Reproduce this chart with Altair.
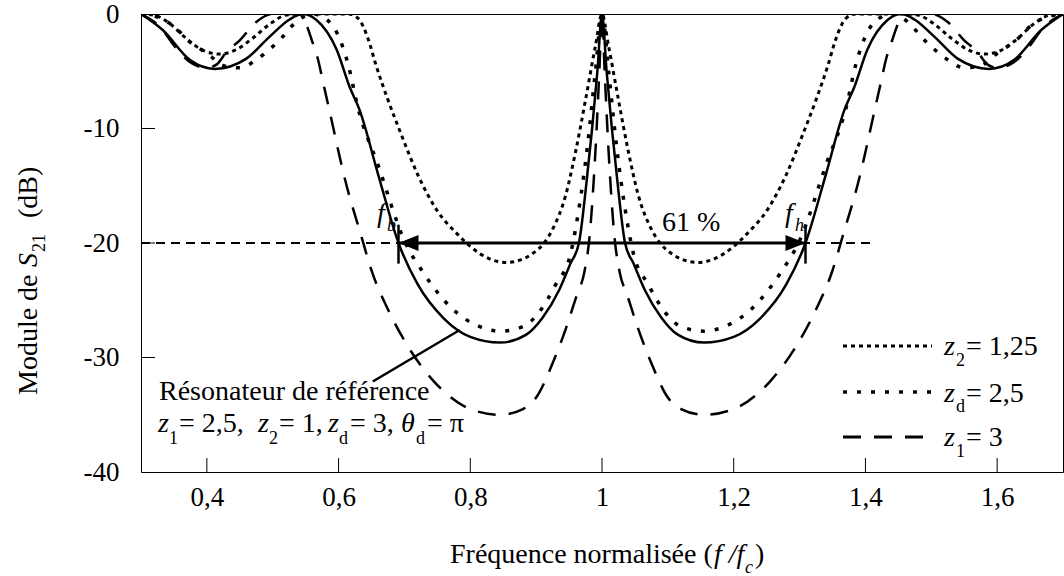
import altair as alt
import pandas as pd

FONT = "Liberation Serif"

# ---------------- data ----------------
# Reference resonator (solid)
solid_x = [0.30, 0.333, 0.374, 0.412, 0.46, 0.495, 0.525, 0.545, 0.566, 0.597, 0.617, 0.632, 0.66, 0.691,
           0.72, 0.76, 0.80, 0.845, 0.885, 0.91, 0.935, 0.952, 0.965, 0.975, 0.985, 0.993, 1.0,
           1.007, 1.015, 1.025, 1.035, 1.048, 1.065, 1.09, 1.115, 1.155, 1.20, 1.24, 1.28, 1.309,
           1.34, 1.368, 1.383, 1.403, 1.434, 1.455, 1.475, 1.505, 1.54, 1.588, 1.626, 1.667, 1.70]
solid_y = [0, -1.4, -4.0, -4.8, -3.9, -2.0, -0.5, 0, -0.5, -3.1, -6.4, -8.4, -14.0, -20.0,
           -23.6, -26.6, -28.2, -28.7, -28.0, -26.5, -24.1, -21.8, -20.0, -15.5, -10.0, -5.0, 0,
           -5.0, -10.0, -15.5, -20.0, -21.8, -24.1, -26.5, -28.0, -28.7, -28.2, -26.6, -23.6, -20.0,
           -14.0, -8.4, -6.4, -3.1, -0.5, 0, -0.5, -2.0, -3.9, -4.8, -4.0, -1.4, 0]

# z2 = 1,25 (dense dots)
z2_x = [0.30, 0.32, 0.345, 0.37, 0.395, 0.42, 0.445, 0.47, 0.495, 0.52, 0.54, 0.615, 0.63, 0.645, 0.657,
        0.675, 0.695, 0.72, 0.75, 0.78, 0.80, 0.83, 0.855, 0.875, 0.895, 0.912, 0.925, 0.945, 0.96,
        0.975, 0.99, 1.0,
        1.01, 1.025, 1.04, 1.055, 1.075, 1.088, 1.105, 1.125, 1.145, 1.17, 1.20, 1.22, 1.25, 1.28,
        1.305, 1.325, 1.343, 1.355, 1.37, 1.385, 1.46, 1.48, 1.505, 1.53, 1.555, 1.58, 1.605, 1.63,
        1.655, 1.68, 1.70]
z2_y = [0, -0.1, -0.9, -2.2, -3.2, -3.5, -3.1, -2.1, -0.9, -0.1, 0, 0, -0.4, -2.2, -4.5,
        -7.5, -10.5, -14.0, -17.2, -19.2, -20.3, -21.4, -21.7, -21.5, -20.9, -20.0, -18.8, -15.8, -12.0,
        -7.5, -2.8, 0,
        -2.8, -7.5, -12.0, -15.8, -18.8, -20.0, -20.9, -21.5, -21.7, -21.4, -20.3, -19.2, -17.2, -14.0,
        -10.5, -7.5, -4.5, -2.2, -0.4, 0, 0, -0.1, -0.9, -2.1, -3.1, -3.5, -3.2, -2.2,
        -0.9, -0.1, 0]

# zd = 2,5 (spaced dots)
zd_x = [0.30, 0.331, 0.343, 0.358, 0.371, 0.386, 0.404, 0.424, 0.45, 0.475, 0.495, 0.515, 0.53, 0.545,
        0.56, 0.58, 0.598, 0.615, 0.629, 0.66, 0.70, 0.73, 0.77, 0.81, 0.845, 0.88, 0.905, 0.93,
        0.952, 0.965, 0.978, 0.99, 1.0,
        1.01, 1.022, 1.035, 1.048, 1.07, 1.095, 1.12, 1.155, 1.19, 1.23, 1.27, 1.30, 1.34, 1.371,
        1.385, 1.402, 1.42, 1.44, 1.455, 1.47, 1.485, 1.505, 1.525, 1.55, 1.576, 1.596, 1.614,
        1.629, 1.642, 1.657, 1.669, 1.70]
zd_y = [0, -0.4, -0.8, -1.5, -2.3, -2.9, -3.6, -4.5, -4.7, -4.0, -3.1, -2.0, -1.0, -0.3,
        0, -0.4, -1.7, -4.5, -8.1, -13.2, -19.8, -22.7, -25.6, -27.2, -27.7, -27.3, -26.0, -23.6,
        -21.0, -17.0, -11.5, -5.0, 0,
        -5.0, -11.5, -17.0, -21.0, -23.6, -26.0, -27.3, -27.7, -27.2, -25.6, -22.7, -19.8, -13.2, -8.1,
        -4.5, -1.7, -0.4, 0, -0.3, -1.0, -2.0, -3.1, -4.0, -4.7, -4.5, -3.6, -2.9,
        -2.3, -1.5, -0.8, -0.4, 0]

# z1 = 3 (dashed)
z1_x = [0.30, 0.333, 0.348, 0.377, 0.40, 0.415, 0.43, 0.45, 0.475, 0.50, 0.54, 0.55, 0.56, 0.568,
        0.577, 0.586, 0.61, 0.635, 0.65, 0.675, 0.705, 0.745, 0.80, 0.845, 0.88, 0.90, 0.925, 0.945,
        0.962, 0.973, 0.981, 0.99, 0.996, 1.0,
        1.004, 1.01, 1.019, 1.027, 1.038, 1.055, 1.075, 1.10, 1.12, 1.155, 1.20, 1.255, 1.295,
        1.325, 1.35, 1.365, 1.39, 1.414, 1.423, 1.432, 1.44, 1.45, 1.46, 1.50, 1.525, 1.55, 1.57,
        1.585, 1.60, 1.623, 1.652, 1.667, 1.70]
z1_y = [0, -1.4, -2.6, -4.3, -4.7, -4.4, -3.3, -2.3, -0.7, 0, 0, -0.8, -2.4, -3.8,
        -6.1, -8.4, -14.5, -19.5, -22.4, -25.8, -29.0, -32.1, -34.5, -35.0, -34.5, -33.5, -30.5, -27.5,
        -24.5, -22.6, -19.5, -12.0, -5.0, 0,
        -5.0, -12.0, -19.5, -22.6, -24.5, -27.5, -30.5, -33.5, -34.5, -35.0, -34.5, -32.1, -29.0,
        -25.8, -22.4, -19.5, -14.5, -8.4, -6.1, -3.8, -2.4, -0.8, 0, 0, -0.7, -2.3, -3.3,
        -4.4, -4.7, -4.3, -2.6, -1.4, 0]

x_ticks = [0.4, 0.6, 0.8, 1.0, 1.2, 1.4, 1.6]
y_ticks = [0, -10, -20, -30, -40]

fb, fh, level = 0.691, 1.309, -20
ref_line_x = [0.30, 1.41]
leader_x = [0.652, 0.784]
leader_y = [-32.1, -27.6]

# ---------------- layout ----------------
PL, PT = 141, 14
W, H = 922, 458
XS = alt.Scale(domain=[0.3, 1.7], nice=False, zero=False)
YS = alt.Scale(domain=[-40, 0], nice=False, zero=False)

xaxis = alt.Axis(values=x_ticks, labelExpr="replace('' + datum.value, '.', ',')", ticks=False,
                 domain=False, grid=False, title=None, labelFont=FONT, labelFontSize=27,
                 labelColor="black", labelPadding=12, labelFlush=False, labelOverlap=False)
yaxis = alt.Axis(values=y_ticks, labelExpr="'' + datum.value", ticks=False, domain=False,
                 grid=False, title=None, labelFont=FONT, labelFontSize=27, labelColor="black",
                 labelPadding=22, labelFlush=False, labelOverlap=False)


def series(xs, ys, name):
    return pd.DataFrame({"f": xs, "s": ys, "k": name})


def curve(df, dash=None, width=2.5):
    kw = dict(color="black", strokeWidth=width, interpolate="monotone", clip=True, strokeCap="butt")
    if dash:
        kw["strokeDash"] = dash
    return alt.Chart(df).mark_line(**kw).encode(
        x=alt.X("f:Q", scale=XS, axis=xaxis),
        y=alt.Y("s:Q", scale=YS, axis=yaxis),
        order="f:Q")


layers = []
layers.append(curve(series(solid_x, solid_y, "ref"), None, 2.5))
layers.append(curve(series(z2_x, z2_y, "z2"), [4, 4], 3))
layers.append(curve(series(zd_x, zd_y, "zd"), [4, 10], 3.5))
layers.append(curve(series(z1_x, z1_y, "z1"), [18, 13], 2.5))

# -20 dB reference dashed line
layers.append(alt.Chart(pd.DataFrame({"f": ref_line_x, "s": [level, level]})).mark_line(
    color="black", strokeWidth=2, strokeDash=[9, 6]).encode(
    x=alt.X("f:Q", scale=XS), y=alt.Y("s:Q", scale=YS)))

# double arrow
layers.append(alt.Chart(pd.DataFrame({"a": [fb], "b": [fh], "s": [level]})).mark_rule(
    color="black", strokeWidth=3).encode(x=alt.X("a:Q", scale=XS), x2="b:Q", y=alt.Y("s:Q", scale=YS)))
layers.append(alt.Chart(pd.DataFrame({"f": [fb, fh], "a": [-18.4, -18.4], "b": [-21.8, -21.8]})).mark_rule(
    color="black", strokeWidth=2.5).encode(x=alt.X("f:Q", scale=XS), y=alt.Y("a:Q", scale=YS), y2="b:Q"))
layers.append(alt.Chart(pd.DataFrame({"f": [fb], "s": [level]})).mark_point(
    shape="M0,0L1,-0.4L1,0.4Z", size=1600, filled=True, color="black", opacity=1).encode(
    x=alt.X("f:Q", scale=XS), y=alt.Y("s:Q", scale=YS)))
layers.append(alt.Chart(pd.DataFrame({"f": [fh], "s": [level]})).mark_point(
    shape="M0,0L-1,-0.4L-1,0.4Z", size=1600, filled=True, color="black", opacity=1).encode(
    x=alt.X("f:Q", scale=XS), y=alt.Y("s:Q", scale=YS)))

# leader line to the reference curve
layers.append(alt.Chart(pd.DataFrame({"f": leader_x, "s": leader_y})).mark_line(
    color="black", strokeWidth=2.5).encode(x=alt.X("f:Q", scale=XS), y=alt.Y("s:Q", scale=YS)))

# inward ticks
layers.append(alt.Chart(pd.DataFrame({"f": x_ticks})).mark_rule(color="black", strokeWidth=1).encode(
    x=alt.X("f:Q", scale=XS), y=alt.value(H), y2=alt.value(H - 14)))
layers.append(alt.Chart(pd.DataFrame({"s": [-10, -20, -30]})).mark_rule(color="black", strokeWidth=1).encode(
    y=alt.Y("s:Q", scale=YS), x=alt.value(0), x2=alt.value(14)))

# legend lines (page pixel positions)
legend_rows = [("z2", [4, 4], 3, 346), ("zd", [4, 10], 3.5, 392), ("z1", [18, 13], 3, 437)]
dummy = pd.DataFrame({"k": [0]})
for name, dash, wdt, py in legend_rows:
    layers.append(alt.Chart(dummy).mark_rule(color="black", strokeWidth=wdt, strokeDash=dash,
                                             strokeCap="butt").encode(
        x=alt.value(843 - PL), x2=alt.value(932 - PL), y=alt.value(py - PT)))

# text pieces: (text, page x, page y baseline, size, italic, angle)
BIG, SUB = 28, 18
texts = [
    # legend
    ("z", 944, 355, BIG, True, 0), ("2", 956, 366, SUB, False, 0), ("= 1,25", 966, 355, BIG, False, 0),
    ("z", 944, 402, BIG, True, 0), ("d", 956, 412, SUB, False, 0), ("= 2,5", 966, 402, BIG, False, 0),
    ("z", 944, 446, BIG, True, 0), ("1", 956, 457, SUB, False, 0), ("= 3", 966, 446, BIG, False, 0),
    # reference resonator annotation
    ("Résonateur de référence", 159, 400, BIG, False, 0),
    ("z", 158, 432, BIG, True, 0), ("1", 169, 444, SUB, False, 0), ("= 2,5,", 179, 432, BIG, False, 0),
    ("z", 258, 432, BIG, True, 0), ("2", 269, 444, SUB, False, 0), ("= 1,", 279, 432, BIG, False, 0),
    ("z", 328, 432, BIG, True, 0), ("d", 339, 444, SUB, False, 0), ("= 3,", 350, 432, BIG, False, 0),
    ("θ", 401, 432, BIG, True, 0), ("d", 416, 444, SUB, False, 0), ("= π", 427, 432, BIG, False, 0),
    # band edges
    ("f", 377, 222, BIG, True, 0), ("b", 387, 231, SUB, True, 0),
    ("f", 785, 222, BIG, True, 0), ("h", 795, 231, SUB, True, 0),
    ("61 %", 662, 231, BIG, False, 0),
    # x title
    ("Fréquence normalisée (", 450, 563, BIG, False, 0), ("f /f", 714, 563, BIG, True, 0),
    ("c", 745, 573, SUB, True, 0), (")", 755, 563, BIG, False, 0),
    # y title (rotated)
    ("Module de", 37, 395, BIG, False, 270), ("S", 37, 267, BIG, True, 270),
    ("21", 45, 252, SUB, False, 270), ("(dB)", 37, 218, BIG, False, 270),
]
for s, px, py, size, ital, ang in texts:
    layers.append(alt.Chart(dummy).mark_text(
        text=s, font=FONT, fontSize=size, fontStyle="italic" if ital else "normal",
        align="left", baseline="alphabetic", angle=ang, color="black").encode(
        x=alt.value(px - PL), y=alt.value(py - PT)))

chart = alt.layer(*layers).properties(
    width=W, height=H,
    autosize=alt.AutoSizeParams(type="none"),
    padding={"left": PL, "top": PT, "right": 1, "bottom": 576 - PT - H},
    background="white",
).configure_view(stroke="black", strokeWidth=1)

chart.save("out.html", embed_options={"renderer": "svg", "actions": False})
